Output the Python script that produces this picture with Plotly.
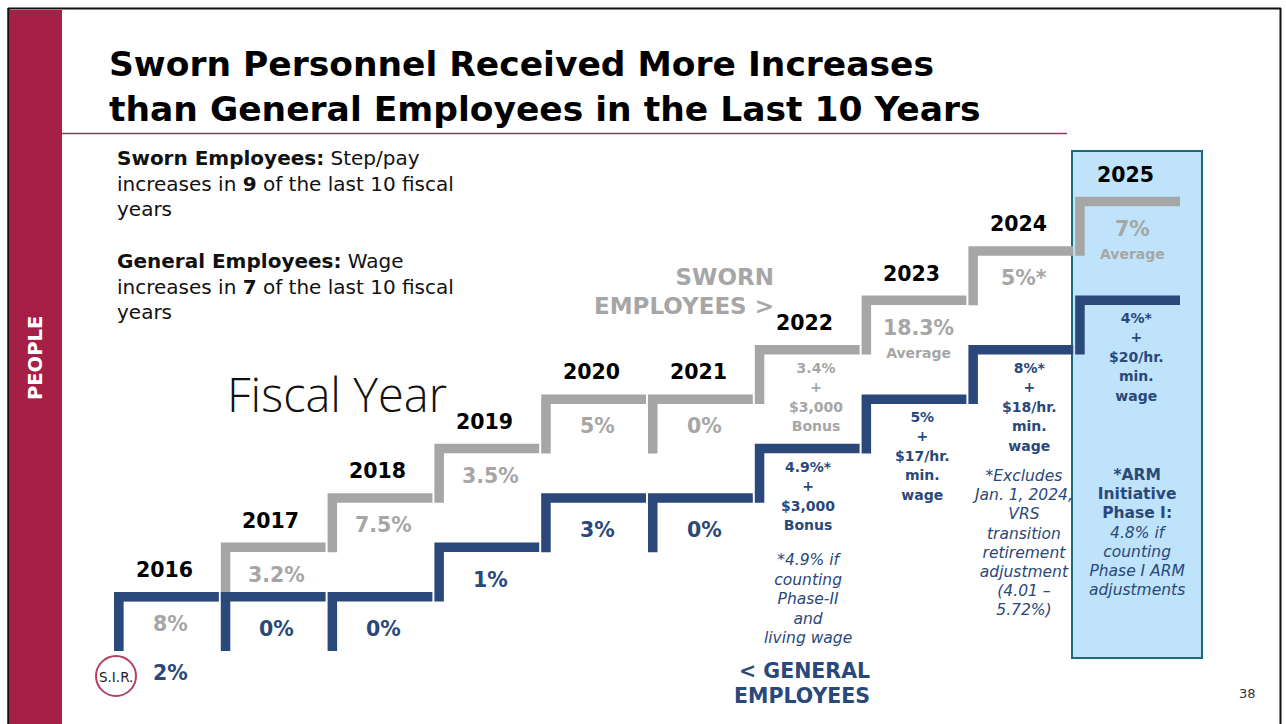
import plotly.graph_objects as go

# ---- data -------------------------------------------------------------
years = ["2016", "2017", "2018", "2019", "2020", "2021", "2022", "2023", "2024", "2025"]
sworn_pct = [8, 3.2, 7.5, 3.5, 5, 0, 3.4, 18.3, 5, 7]
general_pct = [2, 0, 0, 1, 3, 0, 4.9, 5, 8, 4]
sworn_text = ["8%", "3.2%", "7.5%", "3.5%", "5%", "0%",
              "3.4%<br>+<br>$3,000<br>Bonus", "18.3%", "5%*", "7%"]
sworn_note = ["", "", "", "", "", "", "", "Average", "", "Average"]
general_text = ["2%", "0%", "0%", "1%", "3%", "0%",
                "4.9%*<br>+<br>$3,000<br>Bonus",
                "5%<br>+<br>$17/hr.<br>min.<br>wage",
                "8%*<br>+<br>$18/hr.<br>min.<br>wage",
                "4%*<br>+<br>$20/hr.<br>min.<br>wage"]

# ---- style ------------------------------------------------------------
NAVY = "#2A4879"
GRAY = "#A6A6A6"
CRIMSON = "#A51F47"
FONT = "DejaVu Sans"
LIGHT_FONT = "Open Sans"
W, H = 1286, 724
STEP_PX, LEVEL_PX = 106.8, 49.4      # width of one year, height of one stair level
X0_PX, Y0_PX = 114, 592              # where year 0 / level 0 sits on the page


def stair_levels(vals):
    """Each year with a raise climbs one stair level."""
    out = [0]
    for v in vals[1:]:
        out.append(out[-1] + (1 if v > 0 else 0))
    return out


sworn_lv = stair_levels(sworn_pct)
general_lv = stair_levels(general_pct)

ux = lambda p: p / STEP_PX
uy = lambda p: p / LEVEL_PX
TX, TY = ux(9.5), uy(9.5)
TREAD = ux(104.8)
RISER = uy(59)


def step_poly(i, lv):
    xs = [i, i + TREAD, i + TREAD, i + TX, i + TX, i, i]
    ys = [lv, lv, lv - TY, lv - TY, lv - RISER, lv - RISER, lv]
    return xs, ys


fig = go.Figure()
for lv_list, color in ((sworn_lv, GRAY), (general_lv, NAVY)):
    for i, lv in enumerate(lv_list):
        xs, ys = step_poly(i, lv)
        fig.add_trace(go.Scatter(x=xs, y=ys, mode="lines", fill="toself",
                                 fillcolor=color, line=dict(width=0, color=color),
                                 hoverinfo="skip", showlegend=False))

anns = []


def put(text, x, y, size, color, xref="x", yref="y", xanchor="center",
        yanchor="middle", angle=0, align="center", weight="normal", style="normal",
        family=FONT):
    anns.append(dict(text=text, x=x, y=y, xref=xref, yref=yref, showarrow=False,
                     xanchor=xanchor, yanchor=yanchor, textangle=angle, align=align,
                     borderpad=0,
                     font=dict(family=family, size=size, color=color,
                               weight=weight, style=style)))


def lines_text(text, glyph):
    """Wrap every line so the glyph size is set apart from the line pitch."""
    sizes = glyph if isinstance(glyph, (list, tuple)) else None
    out = []
    for k, ln in enumerate(text.split("<br>")):
        g = sizes[k] if sizes else glyph
        out.append(f'<span style="font-size:{g}px">{ln}</span>')
    return "<br>".join(out)


def page(x_px, y_px):
    return x_px / W, 1 - y_px / H


def put_page(text, x_px, y_px, size, color, **kw):
    px, py = page(x_px, y_px)
    put(text, px, py, size, color, xref="paper", yref="paper", **kw)


def put_page_block(text, x_px, y_first_px, pitch, glyph, color, **kw):
    n = text.count("<br>") + 1
    put_page(lines_text(text, glyph), x_px, y_first_px + (n - 1) * pitch / 2,
             pitch / 1.3, color, **kw)


# ---- stair labels -----------------------------------------------------
GENERAL_DY = {0: 80.5}
GENERAL_DX = {6: -8}
PITCH = 19.4
for i, yr in enumerate(years):
    top = max(sworn_lv[i], general_lv[i])
    put(yr, i + ux(50), top + uy(22), 20.5, "#000000", weight="bold")

for series_text, notes, lv_list, color, simple_dy, dx_map, dy_map in (
        (sworn_text, sworn_note, sworn_lv, GRAY, 32, {}, {}),
        (general_text, [""] * len(general_text), general_lv, NAVY, 37,
         GENERAL_DX, GENERAL_DY)):
    for i, txt in enumerate(series_text):
        lv = lv_list[i]
        n = txt.count("<br>") + 1
        if notes[i]:
            # value with a small caption underneath, kept in one text block
            put(lines_text(f"{txt}<br>{notes[i]}", [20.5, 14]), i + ux(57),
                lv - uy(43), 23 / 1.3, color, weight="bold")
        elif n == 1:
            dy = dy_map.get(i, simple_dy)
            put(txt, i + ux(56 + dx_map.get(i, 0)), lv - uy(dy), 20.5, color,
                weight="bold")
        else:
            center = 23 + (n - 1) * PITCH / 2
            put(lines_text(txt, 14), i + ux(61 + dx_map.get(i, 0)), lv - uy(center),
                PITCH / 1.3, color, weight="bold")

# ---- slide text -------------------------------------------------------
put_page_block("Sworn Personnel Received More Increases<br>than General Employees in the Last 10 Years",
               108, 64, 45, 34.5, "#000000", xanchor="left", align="left", weight="bold")

put_page_block("<b>Sworn Employees:</b> Step/pay<br>increases in <b>9</b> of the last 10 fiscal<br>years",
               116, 158, 25.5, 20, "#111111", xanchor="left", align="left")
put_page_block("<b>General Employees:</b> Wage<br>increases in <b>7</b> of the last 10 fiscal<br>years",
               116, 261, 25.5, 20, "#111111", xanchor="left", align="left")

put_page("Fiscal Year", 337, 394, 47, "#111111", weight=300, family=LIGHT_FONT)

put_page_block("SWORN<br>EMPLOYEES &gt;", 775, 277, 29, 23, GRAY,
               xanchor="right", align="right", weight="bold")
put_page_block("&lt; GENERAL<br>EMPLOYEES", 871, 670.5, 25, 20.5, NAVY,
               xanchor="right", align="right", weight="bold")

put_page_block("*4.9% if<br>counting<br>Phase-II<br>and<br>living wage",
               808, 560, 19.5, 15.5, NAVY, style="italic")
put_page_block("*Excludes<br>Jan. 1, 2024,<br>VRS<br>transition<br>retirement<br>adjustment<br>(4.01 –<br>5.72%)",
               1022, 476, 19.2, 15.5, NAVY, style="italic")
put_page_block("<b>*ARM</b><br><b>Initiative</b><br><b>Phase I:</b><br><i>4.8% if</i><br>"
               "<i>counting</i><br><i>Phase I ARM</i><br><i>adjustments</i>",
               1137, 475, 19.2, 15.5, NAVY)

put_page("PEOPLE", 35, 358, 19.5, "#FFFFFF", angle=-90, weight="bold")
put_page("38", 1247, 693, 13, "#333333")
put_page("S.I.R.", 116, 677, 13.5, "#222222")

# ---- page furniture ---------------------------------------------------
def rect_page(x0, y0, x1, y1, **kw):
    return dict(type="rect", xref="paper", yref="paper", x0=x0 / W, x1=x1 / W,
                y0=1 - y1 / H, y1=1 - y0 / H, layer="below", **kw)


def line_page(x0, y0, x1, y1, color, width):
    return dict(type="line", xref="paper", yref="paper", x0=x0 / W, x1=x1 / W,
                y0=1 - y0 / H, y1=1 - y1 / H, line=dict(color=color, width=width),
                layer="below")


shapes = [
    rect_page(10, 10, 62, 724, fillcolor=CRIMSON, line=dict(width=0)),
    line_page(8.5, 8, 8.5, 724, "#111111", 2.5),
    line_page(8, 8.5, 1281, 8.5, "#111111", 2),
    line_page(1280.5, 8, 1280.5, 724, "#111111", 2),
    line_page(62, 133.5, 1067, 133.5, "#B3284E", 1.5),
    rect_page(1072, 151, 1202, 658, fillcolor="#BEE3FA",
              line=dict(color="#1D6B78", width=2)),
    dict(type="circle", xref="paper", yref="paper", x0=96 / W, x1=136 / W,
         y0=1 - 696 / H, y1=1 - 656 / H, line=dict(color="#B5405F", width=2),
         layer="below"),
]

fig.update_layout(
    width=W, height=H, margin=dict(l=0, r=0, t=0, b=0), autosize=False,
    paper_bgcolor="white", plot_bgcolor="white",
    xaxis=dict(range=[-X0_PX / STEP_PX, (W - X0_PX) / STEP_PX], visible=False,
               fixedrange=True),
    yaxis=dict(range=[(Y0_PX - H) / LEVEL_PX, Y0_PX / LEVEL_PX], visible=False,
               fixedrange=True),
    annotations=anns, shapes=shapes, showlegend=False,
)

fig.write_html("out.html")
